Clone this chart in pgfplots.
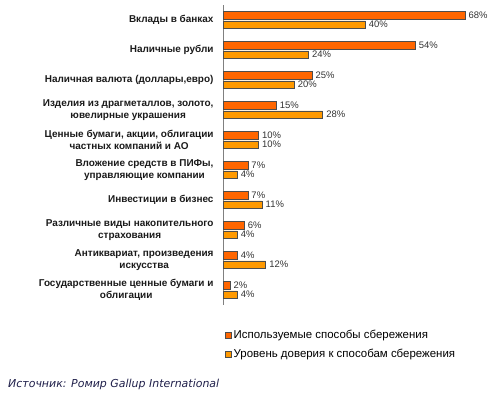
\documentclass[border=0pt]{standalone}
\usepackage{fontspec}
\setmainfont{Liberation Sans}
\newfontfamily\srcfont{DejaVu Sans}
\usepackage{pgfplots}
\pgfplotsset{compat=1.18}
\definecolor{c1}{HTML}{FF6600}
\definecolor{c2}{HTML}{FF9900}
\definecolor{bord}{HTML}{4D4D4D}
\definecolor{lbl}{HTML}{1A1A1A}
\definecolor{src}{HTML}{1F1F4A}
\begin{document}
\begin{tikzpicture}
\useasboundingbox (0,0) rectangle (493bp,-393bp);
\begin{axis}[
  at={(223bp,-5bp)}, anchor=north west,
  scale only axis, width=267bp, height=300bp,
  xmin=0, xmax=75, ymin=-0.5, ymax=9.5, y dir=reverse,
  xbar, bar width=0.25,
  axis x line=none, axis y line*=left,
  y axis line style={draw=gray,-},
  xtick=\empty, ytick={0,...,9}, major tick length=0,
  yticklabels={{Вклады в банках},{Наличные рубли},{Наличная валюта (доллары,евро)},{Изделия из драгметаллов, золото,\\ювелирные украшения},{Ценные бумаги, акции, облигации\\частных компаний и АО},{Вложение средств в ПИФы,\\управляющие компании},{Инвестиции в бизнес},{Различные виды накопительного\\страхования},{Антиквариат, произведения\\искусства},{Государственные ценные бумаги и\\облигации}},
  yticklabel style={font=\bfseries\fontsize{10}{11.5}\selectfont, align=center, text=lbl, xshift=-6bp},
  point meta=x,
  nodes near coords={\pgfmathprintnumber[assume math mode=true]{\pgfplotspointmeta}\%},
  nodes near coords style={font=\fontsize{9.5}{10}\selectfont, anchor=west, text=black!80},
  legend style={draw=none, fill=none, at={(0.0,-0.07)}, anchor=north west,
    font=\fontsize{11.5}{12}\selectfont, row sep=5bp, cells={anchor=west}, inner xsep=2bp},
  legend image code/.code={\draw[#1, line width=0.5pt] (0bp,-3bp) rectangle (6bp,3bp);},
  clip=false,
]
\addplot[fill=c1, draw=bord, line width=0.5pt, bar shift=-0.155] coordinates {(68,0) (54,1) (25,2) (15,3) (10,4) (7,5) (7,6) (6,7) (4,8) (2,9)};
\addplot[fill=c2, draw=bord, line width=0.5pt, bar shift=0.155] coordinates {(40,0) (24,1) (20,2) (28,3) (10,4) (4,5) (11,6) (4,7) (12,8) (4,9)};
\legend{Используемые способы сбережения, Уровень доверия к способам сбережения}
\end{axis}
\node[anchor=base west, font=\srcfont\itshape\fontsize{11}{12}\selectfont, text=src, inner sep=0] at (8bp,-387bp) {Источник: Ромир Gallup International};
\end{tikzpicture}
\end{document}
